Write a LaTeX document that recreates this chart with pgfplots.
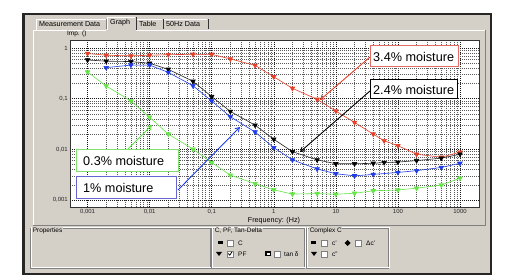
\documentclass[border=0pt]{standalone}
\usepackage{pgfplots}
\pgfplotsset{compat=1.18}
\usetikzlibrary{arrows.meta}
\usepackage{fontspec}
\setmainfont{Liberation Sans}
\definecolor{uigray}{RGB}{212,208,200}
\definecolor{uidark}{RGB}{128,128,128}
\definecolor{redc}{RGB}{232,64,40}
\definecolor{bluec}{RGB}{30,60,235}
\definecolor{greenc}{RGB}{100,230,70}
\definecolor{redbox}{RGB}{225,110,100}
\definecolor{bluebox}{RGB}{100,100,210}
\definecolor{greenbox}{RGB}{130,225,110}
\newcommand{\ui}{\fontsize{7.2}{8}\selectfont}
\newcommand{\cbox}[2]{\filldraw[fill=white,draw=uidark,line width=0.5bp] (#1,#2) rectangle ++(6,6);}
\begin{document}
\begin{tikzpicture}
\path[use as bounding box] (0bp,0bp) rectangle (511bp,280bp);
\begin{scope}[x=1bp,y=1bp]
\fill[white] (0,0) rectangle (511,280);
% window
\fill[uigray] (23,6) rectangle (491,266);
\draw[black!85, line width=2.6bp] (23.5,6) rectangle (491,266);
% tabs
\fill[uigray] (36,250) rectangle (208,261);
\draw[white, line width=0.6bp] (36,250) -- (36,261) -- (106,261);
\draw[uidark, line width=0.6bp] (106,251) -- (106,261);
\draw[white, line width=0.6bp] (107,250) -- (107,263) -- (135,263);
\draw[black!80, line width=0.7bp] (136,250) -- (136,263);
\draw[white, line width=0.6bp] (137,261) -- (162,261);
\draw[black!80, line width=0.7bp] (163,251) -- (163,261);
\draw[white, line width=0.6bp] (164,261) -- (207,261);
\draw[black!80, line width=0.7bp] (208,251) -- (208,261);
\node[anchor=west, font=\ui, inner sep=0] at (39,256) {Measurement Data};
\node[anchor=west, font=\ui, inner sep=0] at (110,257) {Graph};
\node[anchor=west, font=\ui, inner sep=0] at (139,256) {Table};
\node[anchor=west, font=\ui, inner sep=0] at (166,256) {50Hz Data};
% panel
\draw[white, line width=0.6bp] (33,55) -- (33,250) -- (106,250);
\draw[white, line width=0.6bp] (136,250) -- (485,250);
\draw[uidark, line width=0.6bp] (485,250) -- (485,55) -- (33,55);
\node[anchor=west, font=\fontsize{6.5}{7}\selectfont, inner sep=0] at (67,246) {Imp. ()};
\node[font=\ui, inner sep=0] at (274,59.5) {Frequency: (Hz)};
\end{scope}
\begin{axis}[
  at={(70bp,73bp)}, anchor=south west,
  scale only axis, width=409bp, height=167bp,
  xmode=log, ymode=log,
  xmin=5.22e-4, xmax=2023, ymin=7.28e-4, ymax=1.439,
  axis background/.style={fill=white},
  axis line style={black!80, line width=0.6bp},
  xtick={0.001,0.01,0.1,1,10,100,1000},
  xticklabels={{0,001},{0,01},{0,1},1,10,100,1000},
  ytick={0.001,0.01,0.1,1},
  yticklabels={{0,001},{0,01},{0,1},1},
  tick label style={font=\fontsize{6}{7}\selectfont, text=black!85},
  major tick length=0pt, minor tick length=0pt,
  xticklabel style={inner sep=1.5bp, yshift=-1bp},
  yticklabel style={inner sep=2bp},
  grid=both,
  major grid style={black!90, dash pattern=on 1bp off 1bp, line width=0.5bp},
  minor grid style={black!65, dash pattern=on 1bp off 1bp, line width=0.4bp},
  every axis plot/.append style={line width=0.6bp, mark=triangle*, mark size=2.6bp},
  clip=true,
]
\addplot[redc, mark options={fill=redc, draw=redc, rotate=180, solid}] coordinates {
(0.001,0.78)(0.002,0.72)(0.005,0.70)(0.01,0.72)(0.02,0.74)(0.05,0.75)(0.1,0.75)(0.2,0.61)(0.5,0.455)(1,0.27)(2,0.16)(5,0.097)(10,0.057)(20,0.034)(40,0.020)(60,0.0148)(100,0.0118)(200,0.0080)(500,0.0070)(1000,0.0088)};
\addplot[black!85, mark options={fill=black, draw=black, rotate=180, solid}] coordinates {
(0.001,0.58)(0.002,0.55)(0.005,0.54)(0.01,0.50)(0.02,0.38)(0.05,0.22)(0.1,0.11)(0.2,0.056)(0.5,0.030)(1,0.0158)(2,0.0090)(5,0.0062)(10,0.0052)(20,0.0052)(40,0.0053)(60,0.0055)(100,0.0056)(200,0.0060)(500,0.0067)(1000,0.0080)};
\addplot[bluec, mark options={fill=bluec, draw=bluec, rotate=180, solid}] coordinates {
(0.002,0.41)(0.005,0.46)(0.01,0.46)(0.02,0.33)(0.05,0.18)(0.1,0.090)(0.2,0.044)(0.5,0.022)(1,0.0108)(2,0.0062)(5,0.0041)(10,0.0033)(20,0.0030)(40,0.0032)(100,0.0035)(200,0.0038)(500,0.0044)(1000,0.0053)};
\addplot[greenc, mark options={fill=greenc, draw=greenc, rotate=180, solid}] coordinates {
(0.001,0.336)(0.002,0.178)(0.005,0.090)(0.01,0.043)(0.02,0.020)(0.05,0.0101)(0.1,0.0055)(0.2,0.0031)(0.5,0.0021)(1,0.00159)(2,0.00131)(5,0.00134)(10,0.00130)(20,0.00136)(40,0.00152)(100,0.00158)(200,0.00171)(500,0.00197)(1000,0.0027)};
\end{axis}
\begin{scope}[x=1bp,y=1bp]
% annotations
\draw[redc, line width=0.9bp, -{Straight Barb[length=4bp,width=5bp]}] (370,223) -- (320,180);
\draw[black, line width=0.9bp, -{Straight Barb[length=4bp,width=5bp]}] (370,189) -- (300,128);
\draw[greenc, line width=0.9bp, -{Straight Barb[length=4bp,width=5bp]}] (127,130) -- (152,155);
\draw[bluec, line width=0.9bp, -{Straight Barb[length=4bp,width=5bp]}] (178,90) -- (240,153);
\filldraw[fill=white, draw=redbox, line width=1bp] (370,213) rectangle (458,234);
\filldraw[fill=white, draw=black, line width=1bp] (370,181) rectangle (457,200);
\filldraw[fill=white, draw=greenbox, line width=1bp] (76,108) rectangle (178,130);
\filldraw[fill=white, draw=bluebox, line width=1bp] (76,81) rectangle (176,103);
\node[anchor=west, font=\fontsize{12.7}{14}\selectfont, inner sep=0] at (373,223.5) {3.4\% moisture};
\node[anchor=west, font=\fontsize{12.7}{14}\selectfont, inner sep=0] at (373,190.5) {2.4\% moisture};
\node[anchor=west, font=\fontsize{12.7}{14}\selectfont, inner sep=0] at (83,119) {0.3\% moisture};
\node[anchor=west, font=\fontsize{12.7}{14}\selectfont, inner sep=0] at (83,92) {1\% moisture};
% group boxes
\foreach \a/\b in {30/210, 211/304, 306/388}{
  \draw[uidark, line width=0.6bp] (\a,12) rectangle (\b,52);
  \draw[white, line width=0.5bp] (\a+0.8,12.8) rectangle (\b+0.8,52.8);
}
\node[anchor=west, font=\fontsize{6.5}{7}\selectfont, fill=uigray, inner sep=0.6bp] at (32,49) {Properties};
\node[anchor=west, font=\fontsize{6.5}{7}\selectfont, fill=uigray, inner sep=0.6bp] at (214,49) {C, PF, Tan-Delta};
\node[anchor=west, font=\fontsize{6.5}{7}\selectfont, fill=uigray, inner sep=0.6bp] at (309,49) {Complex C};
\fill[black] (218,35.5) rectangle (223,38.5);
\cbox{227}{34}
\node[anchor=west, font=\fontsize{6.5}{7}\selectfont, inner sep=0] at (238,37) {C};
\fill[black] (216,28) -- (222,28) -- (219,24) -- cycle;
\cbox{227}{23}
\draw[black, line width=0.8bp] (228.3,26.5) -- (229.8,24.8) -- (232,28.2);
\node[anchor=west, font=\fontsize{6.5}{7}\selectfont, inner sep=0] at (238,26) {PF};
\fill[black] (265,23.5) rectangle (271,28.5);
\fill[white] (266.5,25) rectangle (269.5,27);
\cbox{274}{23}
\node[anchor=west, font=\fontsize{6.5}{7}\selectfont, inner sep=0] at (284,26) {tan δ};
\fill[black] (311,35.5) rectangle (316,38.5);
\cbox{321}{34}
\node[anchor=west, font=\fontsize{6.5}{7}\selectfont, inner sep=0] at (332,37) {c'};
\fill[black] (347.5,40) -- (350.5,37) -- (347.5,34) -- (344.5,37) -- cycle;
\cbox{355}{34}
\node[anchor=west, font=\fontsize{6.5}{7}\selectfont, inner sep=0] at (366,37) {Δc'};
\fill[black] (311,28) -- (317,28) -- (314,24) -- cycle;
\cbox{321}{23}
\node[anchor=west, font=\fontsize{6.5}{7}\selectfont, inner sep=0] at (332,26) {c''};
\end{scope}
\end{tikzpicture}
\end{document}
